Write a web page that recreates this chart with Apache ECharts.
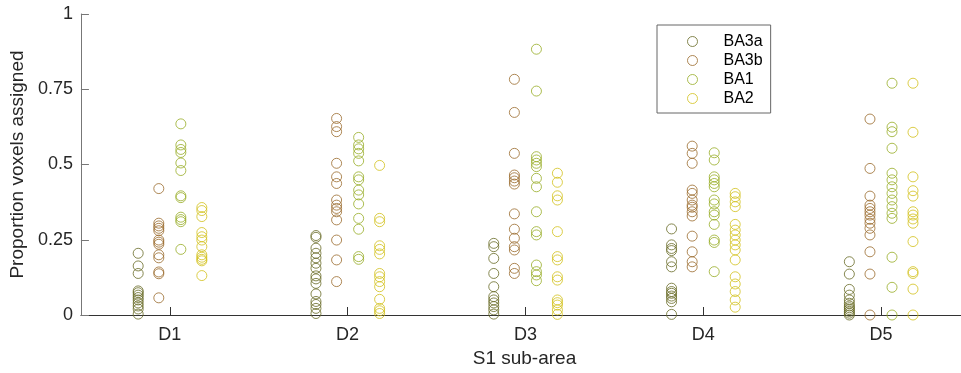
<!DOCTYPE html>
<html>
<head>
<meta charset="utf-8">
<script src="https://cdn.jsdelivr.net/npm/echarts@6/dist/echarts.min.js"></script>
<style>
  html, body { margin: 0; padding: 0; background: #fff; }
  #chart { width: 961px; height: 373px; }
</style>
</head>
<body>
<div id="chart"></div>
<script>
// ---- data ----
const categories = ['D1', 'D2', 'D3', 'D4', 'D5'];
const seriesNames = ['BA3a', 'BA3b', 'BA1', 'BA2'];
const yTicks = [0, 0.25, 0.5, 0.75, 1];

const BA3a = [
  [0.205, 0.163, 0.138, 0.08, 0.074, 0.066, 0.058, 0.05, 0.04, 0.03, 0.02, 0.003],
  [0.264, 0.258, 0.222, 0.205, 0.19, 0.172, 0.155, 0.13, 0.12, 0.105, 0.07, 0.045, 0.035, 0.022, 0.005],
  [0.238, 0.227, 0.188, 0.138, 0.094, 0.061, 0.05, 0.04, 0.028, 0.017, 0.003],
  [0.286, 0.233, 0.221, 0.214, 0.177, 0.16, 0.089, 0.078, 0.072, 0.063, 0.055, 0.044, 0.002],
  [0.177, 0.136, 0.085, 0.066, 0.05, 0.039, 0.03, 0.024, 0.018, 0.012, 0.006, 0.0]
];
const BA3b = [
  [0.42, 0.305, 0.296, 0.288, 0.28, 0.249, 0.242, 0.235, 0.2, 0.19, 0.143, 0.137, 0.057],
  [0.653, 0.626, 0.609, 0.504, 0.459, 0.437, 0.382, 0.365, 0.354, 0.343, 0.316, 0.249, 0.183, 0.111],
  [0.783, 0.673, 0.537, 0.465, 0.456, 0.445, 0.435, 0.336, 0.285, 0.255, 0.227, 0.216, 0.155, 0.138],
  [0.561, 0.537, 0.504, 0.415, 0.404, 0.382, 0.365, 0.358, 0.343, 0.329, 0.262, 0.21, 0.177, 0.16],
  [0.651, 0.487, 0.395, 0.365, 0.354, 0.343, 0.332, 0.318, 0.305, 0.288, 0.266, 0.21, 0.136, 0.0]
];
const BA1 = [
  [0.635, 0.565, 0.55, 0.54, 0.505, 0.48, 0.396, 0.39, 0.325, 0.317, 0.31, 0.218],
  [0.59, 0.565, 0.552, 0.537, 0.512, 0.459, 0.449, 0.415, 0.399, 0.369, 0.321, 0.285, 0.194, 0.185],
  [0.883, 0.744, 0.526, 0.515, 0.504, 0.493, 0.454, 0.426, 0.343, 0.277, 0.266, 0.166, 0.144, 0.133, 0.114],
  [0.539, 0.515, 0.459, 0.449, 0.437, 0.426, 0.382, 0.369, 0.343, 0.332, 0.301, 0.249, 0.241, 0.144],
  [0.77, 0.624, 0.609, 0.554, 0.471, 0.449, 0.426, 0.404, 0.382, 0.36, 0.338, 0.321, 0.192, 0.092, 0.0]
];
const BA2 = [
  [0.357, 0.347, 0.327, 0.274, 0.26, 0.249, 0.227, 0.2, 0.192, 0.185, 0.18, 0.131],
  [0.497, 0.321, 0.31, 0.23, 0.218, 0.203, 0.138, 0.127, 0.111, 0.094, 0.052, 0.022, 0.014, 0.005],
  [0.471, 0.441, 0.396, 0.382, 0.277, 0.194, 0.183, 0.127, 0.116, 0.05, 0.041, 0.033, 0.017, 0.002],
  [0.404, 0.393, 0.376, 0.36, 0.301, 0.282, 0.266, 0.249, 0.233, 0.216, 0.183, 0.127, 0.103, 0.078, 0.05, 0.026],
  [0.77, 0.607, 0.459, 0.413, 0.395, 0.343, 0.332, 0.319, 0.305, 0.244, 0.144, 0.138, 0.086, 0.0]
];

// ---- styling ----
const allValues = [BA3a, BA3b, BA1, BA2];
const colors = ['#686a26', '#9a6a2c', '#97ad25', '#d2c01a'];
const groupOffsets = [-0.178, -0.062, 0.062, 0.18];
const FONT = 'Liberation Sans, Arial, Helvetica, sans-serif';
const TXT = '#262626';

const series = seriesNames.map((name, s) => {
  const pts = [];
  allValues[s].forEach((vals, c) => {
    vals.forEach(v => pts.push([c + 1 + groupOffsets[s], v]));
  });
  return {
    name,
    type: 'scatter',
    data: pts,
    symbol: 'circle',
    symbolSize: 10,
    itemStyle: { color: 'rgba(0,0,0,0)', borderColor: colors[s], borderWidth: 1 },
    emphasis: { disabled: true },
    silent: true
  };
});

const chart = echarts.init(document.getElementById('chart'), null, { renderer: 'canvas' });
chart.setOption({
  animation: false,
  textStyle: { fontFamily: FONT },
  grid: { left: 80, top: 14, right: 0, height: 301 },
  legend: {
    data: seriesNames.map((n, i) => ({ name: n, itemStyle: { color: 'rgba(0,0,0,0)', borderColor: colors[i], borderWidth: 1 } })),
    orient: 'vertical',
    left: 657,
    top: 25,
    padding: [7, 8, 5, 30],
    itemWidth: 10,
    itemHeight: 10,
    itemGap: 0,
    borderColor: '#666',
    borderWidth: 1,
    backgroundColor: '#fff',
    selectedMode: false,
    textStyle: { fontFamily: FONT, fontSize: 16, color: '#000', lineHeight: 19, padding: [0, 0, 0, 21] }
  },
  xAxis: {
    type: 'value',
    min: 0.5,
    max: 5.45,
    name: 'S1 sub-area',
    nameLocation: 'middle',
    nameGap: 29,
    nameTextStyle: { fontFamily: FONT, fontSize: 19, color: TXT, padding: [0, 0, 0, 7] },
    axisLine: { show: true, lineStyle: { color: '#333', width: 1 } },
    axisTick: { show: true, inside: true, length: 8, customValues: [1, 2, 3, 4, 5], lineStyle: { color: '#333' } },
    axisLabel: {
      customValues: [1, 2, 3, 4, 5],
      formatter: v => categories[Math.round(v) - 1],
      fontFamily: FONT, fontSize: 18, color: TXT, margin: 11
    },
    splitLine: { show: false }
  },
  yAxis: {
    type: 'value',
    min: 0,
    max: 1,
    interval: 0.25,
    name: 'Proportion voxels assigned',
    nameLocation: 'middle',
    nameGap: 45,
    nameTextStyle: { fontFamily: FONT, fontSize: 19, color: TXT },
    axisLine: { show: true, lineStyle: { color: '#777', width: 1 } },
    axisTick: { show: true, inside: true, length: 8, lineStyle: { color: '#777' } },
    axisLabel: {
      customValues: yTicks,
      formatter: v => String(v),
      fontFamily: FONT, fontSize: 18, color: TXT, margin: 8
    },
    splitLine: { show: false }
  },
  series
});
</script>
</body>
</html>
